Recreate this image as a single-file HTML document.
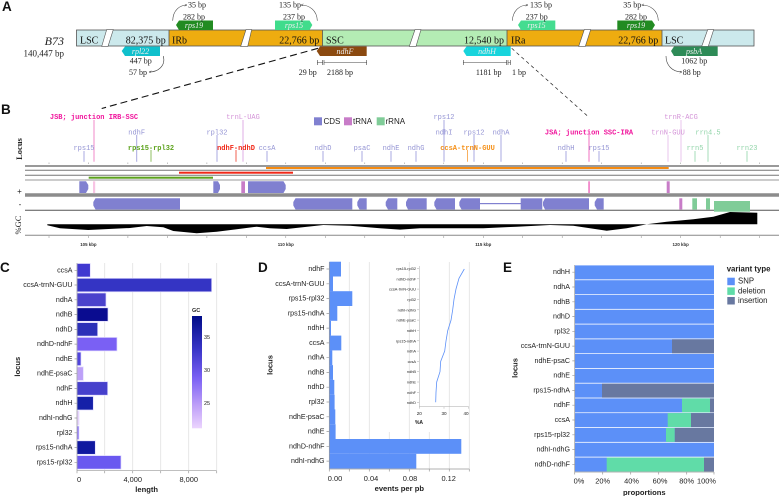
<!DOCTYPE html>
<html><head><meta charset="utf-8"><style>
html,body{margin:0;padding:0;background:#fff;width:780px;height:496px;overflow:hidden}
svg{display:block;filter:blur(.3px)}
.s{font-family:"Liberation Serif",serif;fill:#222}
.m{font-family:"Liberation Mono",monospace;font-size:7px;text-anchor:middle}
.mb{font-weight:bold}
.a{font-family:"Liberation Sans",sans-serif;fill:#222}
.c7{font-size:7.1px;text-anchor:end;dominant-baseline:central}
.t{font-size:7.4px;text-anchor:middle}
.tb{font-size:7.6px;font-weight:bold;text-anchor:middle}
.bp{font-family:"Liberation Serif",serif;font-size:8px;fill:#222;text-anchor:middle}
.g{font-family:"Liberation Serif",serif;font-size:8px;font-style:italic;fill:#eee;text-anchor:middle}
.bar{font-family:"Liberation Serif",serif;font-size:10px;fill:#111}
.L{font-family:"Liberation Sans",sans-serif;font-size:13.5px;font-weight:bold;fill:#111}
.k{font-family:"Liberation Sans",sans-serif;font-size:4.4px;font-weight:bold;text-anchor:middle;fill:#333}
</style></head><body>
<svg width="780" height="496" viewBox="0 0 780 496" xmlns="http://www.w3.org/2000/svg">
<defs>
<linearGradient id="gc" x1="0" y1="0" x2="0" y2="1"><stop offset="0" stop-color="#000c88"/><stop offset=".3" stop-color="#3a36c8"/><stop offset=".55" stop-color="#7a60f4"/><stop offset=".8" stop-color="#bfa0f8"/><stop offset="1" stop-color="#ecd4fe"/></linearGradient>
<marker id="ar" markerWidth="5" markerHeight="5" refX="4" refY="2" orient="auto"><path d="M0,0L4,2L0,4" fill="none" stroke="#333" stroke-width=".7"/></marker>
</defs>

<!-- Panel A -->
<text class="L" x="2" y="11">A</text>
<rect x="76.5" y="30" width="92.5" height="16" fill="#cce9ec"/>
<rect x="169" y="30" width="153.5" height="16" fill="#eeac10"/>
<rect x="322.5" y="30" width="184.5" height="16" fill="#b4ecb4"/>
<rect x="507" y="30" width="155" height="16" fill="#eeac10"/>
<rect x="662" y="30" width="92" height="16" fill="#cce9ec"/>
<g fill="none" stroke="#555" stroke-width=".8">
<rect x="76.5" y="30" width="677.5" height="16"/>
<path d="M169,30V46M322.5,30V46M507,30V46M662,30V46"/>
</g>
<g fill="#fff" stroke="#555" stroke-width=".6">
<path d="M101.7,46.4L106.7,29.6H113.3L108,46.4Z"/>
<path d="M240.7,46.4L246,29.6H251.7L247.7,46.4Z"/>
<path d="M409.3,46.4L415,29.6H421L416,46.4Z"/>
<path d="M578.7,46.4L584.3,29.6H590.7L585.3,46.4Z"/>
<path d="M701.7,46.4L707.7,29.6H713.7L708.3,46.4Z"/>
</g>
<g class="bar">
<text x="80" y="43.5">LSC</text><text x="165.7" y="43.5" text-anchor="end">82,375 bp</text>
<text x="172" y="43.5">IRb</text><text x="319.3" y="43.5" text-anchor="end">22,766 bp</text>
<text x="326" y="43.5">SSC</text><text x="504" y="43.5" text-anchor="end">12,540 bp</text>
<text x="511" y="43.5">IRa</text><text x="658.3" y="43.5" text-anchor="end">22,766 bp</text>
<text x="665" y="43.5">LSC</text>
</g>
<text class="s" x="64" y="45" font-size="12" font-style="italic" text-anchor="end">B73</text>
<text class="s" x="64" y="56.5" font-size="9" text-anchor="end">140,447 bp</text>

<path d="M176,25L179,20.5H213V30H179Z" fill="#228b22"/>
<path d="M275,20.5H309.5L312.3,25L309.5,30H275Z" fill="#40dc8c"/>
<path d="M121.7,51L125,46.5H160V56H125Z" fill="#10c0cc"/>
<path d="M316.7,51L320,46.5H366.7V56H320Z" fill="#8b4a10"/>
<path d="M518,25L521,20.5H555.3V30H521Z" fill="#44dc90"/>
<path d="M617.3,20.5H652L655,25L652,30H617.3Z" fill="#228b22"/>
<path d="M463.3,51L466.5,46.5H510.7V56H466.5Z" fill="#18d4dc"/>
<path d="M671,51L674,46.5H717.7V56H674Z" fill="#2e8b57"/>
<text class="g" x="194" y="28">rps19</text>
<text class="g" x="294" y="28">rps15</text>
<text class="g" x="140.5" y="54">rpl22</text>
<text class="g" x="345" y="54">ndhF</text>
<text class="g" x="536.5" y="28">rps15</text>
<text class="g" x="636" y="28">rps19</text>
<text class="g" x="487" y="54">ndhH</text>
<text class="g" x="694" y="54">psbA</text>

<g class="bp">
<text x="197" y="7.5">35 bp</text><text x="194" y="19.5">282 bp</text>
<text x="290" y="7.5">135 bp</text><text x="294" y="19.5">237 bp</text>
<text x="140.7" y="63.5">447 bp</text><text x="138" y="75">57 bp</text>
<text x="307.7" y="75">29 bp</text><text x="340" y="75">2188 bp</text>
<text x="541" y="7.5">135 bp</text><text x="536.7" y="19.5">237 bp</text>
<text x="632.3" y="7.5">35 bp</text><text x="636" y="19.5">282 bp</text>
<text x="488.7" y="75">1181 bp</text><text x="519" y="75">1 bp</text>
<text x="694.3" y="63.5">1062 bp</text><text x="691.7" y="75">88 bp</text>
</g>
<g fill="none" stroke="#444" stroke-width=".6">
<path d="M172.7,20.7C173,10 180,5 187,5" marker-end="url(#ar)"/>
<path d="M317.3,20.7C317,11 310,5 301,5" marker-end="url(#ar)"/>
<path d="M163.3,56C166,66 158,72 149,72" marker-end="url(#ar)"/>
<path d="M512.3,20.7C513,11 519,5 528,5" marker-end="url(#ar)"/>
<path d="M658.3,20.7C658,11 651,5 641.7,5" marker-end="url(#ar)"/>
<path d="M666,56C666,65 672,72 682,72" marker-end="url(#ar)"/>
<path d="M317.3,60V65M322.7,60V65M317.3,62.5H322.7M324,60V65M366.7,60V65M324,62.5H366.7"/>
<path d="M463.3,60V65M506.7,60V65M463.3,62.5H506.7M508,60V65M510.5,60V65M508,62.5H510.5"/>
</g>
<path d="M318,48.3L101.7,108.5" stroke="#111" stroke-width="1.1" stroke-dasharray="7 4" fill="none"/>
<path d="M511.7,48.3L589,117.3" stroke="#222" stroke-width=".7" stroke-dasharray="3.5 3" fill="none"/>

<!-- Panel B -->
<text class="L" x="1" y="114">B</text>
<g stroke-width="1">
<path stroke="#f8c4e4" stroke-width="2" d="M94,120V161.7"/>
<path stroke="#e8c4ec" stroke-width="1.4" d="M243,120V161.7"/>
<path stroke="#a8a8e0" d="M136.7,135V161.7M217,135V161.7M84,151V161.7M267,151V161.7M323,151V161.7M362,151V161.7M391,151V161.7M416,151V161.7M444,120V161.7M474,135V161.7M501,135V161.7M566,151V161.7M599,151V161.7"/>
<path stroke="#8fbf60" d="M151,150V161.7"/>
<path stroke="#f06050" d="M236,150V161.7"/>
<path stroke="#f8b060" d="M467.5,150V161.7"/>
<path stroke="#f070c0" d="M589,135V161.7"/>
<path stroke="#e8c4ec" d="M668,135V161.7M681,120V161.7"/>
<path stroke="#a4dcb8" d="M708,135V161.7M695,151V161.7M747,151V161.7"/>
</g>
<g class="m">
<text x="94" y="119" fill="#f0149c" class="m mb">JSB; junction IRB-SSC</text>
<text x="243" y="119" fill="#d494d8">trnL-UAG</text>
<text x="136.7" y="134.5" fill="#9494d4">ndhF</text>
<text x="217" y="134.5" fill="#9494d4">rpl32</text>
<text x="84" y="150" fill="#9494d4">rps15</text>
<text x="151" y="150" fill="#5ca21c" class="m mb">rps15-rpl32</text>
<text x="236" y="150" fill="#f02818" class="m mb">ndhF-ndhD</text>
<text x="267" y="150" fill="#9494d4">ccsA</text>
<text x="323" y="150" fill="#9494d4">ndhD</text>
<text x="362" y="150" fill="#9494d4">psaC</text>
<text x="391" y="150" fill="#9494d4">ndhE</text>
<text x="416" y="150" fill="#9494d4">ndhG</text>
<text x="444" y="119" fill="#9494d4">rps12</text>
<text x="444" y="134.5" fill="#9494d4">ndhI</text>
<text x="474" y="134.5" fill="#9494d4">rps12</text>
<text x="501" y="134.5" fill="#9494d4">ndhA</text>
<text x="467.5" y="150" fill="#f59018" class="m mb">ccsA-trnN-GUU</text>
<text x="566" y="150" fill="#9494d4">ndhH</text>
<text x="589" y="134.5" fill="#f0149c" class="m mb">JSA; junction SSC-IRA</text>
<text x="599" y="150" fill="#9494d4">rps15</text>
<text x="668" y="134.5" fill="#d494d8">trnN-GUU</text>
<text x="681" y="119" fill="#d494d8">trnR-ACG</text>
<text x="708" y="134.5" fill="#90d4a8">rrn4.5</text>
<text x="695" y="150" fill="#90d4a8">rrn5</text>
<text x="747" y="150" fill="#90d4a8">rrn23</text>
</g>
<rect x="314" y="117.3" width="8" height="8" fill="#8080d0"/><text class="a" x="323.5" y="124" font-size="8">CDS</text>
<rect x="344" y="117.3" width="8" height="8" fill="#c87cc8"/><text class="a" x="353" y="124" font-size="8">tRNA</text>
<rect x="376.7" y="117.3" width="8" height="8" fill="#80cc98"/><text class="a" x="385.5" y="124" font-size="8">rRNA</text>

<g stroke-width="1" fill="none">
<path stroke="#999" stroke-width="2" d="M25,166H779"/>
<path stroke="#777" d="M25,170.3H779M25,175.3H779"/>
<path stroke="#999" d="M25,180H779"/>
<path stroke="#8c8c8c" stroke-width="3.6" d="M25,195H779"/>
<path stroke="#555" d="M25,210.3H779"/>
<path stroke="#888" d="M25,235.3H779"/>
</g>
<g stroke="#888" stroke-width=".5">
<path d="M49,162.5v1.5M88.4,162.5v1.5M127.9,162.5v1.5M167.4,162.5v1.5M206.9,162.5v1.5M246.4,162.5v1.5M285.8,162.5v1.5M325.3,162.5v1.5M364.8,162.5v1.5M404.3,162.5v1.5M443.8,162.5v1.5M483.3,162.5v1.5M522.7,162.5v1.5M562.2,162.5v1.5M601.7,162.5v1.5M641.2,162.5v1.5M680.7,162.5v1.5M720.2,162.5v1.5M759.6,162.5v1.5"/>
<path d="M49,236v2M88.4,236v2M127.9,236v2M167.4,236v2M206.9,236v2M246.4,236v2M285.8,236v2M325.3,236v2M364.8,236v2M404.3,236v2M443.8,236v2M483.3,236v2M522.7,236v2M562.2,236v2M601.7,236v2M641.2,236v2M680.7,236v2M720.2,236v2M759.6,236v2"/>
</g>
<rect x="266" y="167" width="402.7" height="2" fill="#f58a10"/>
<rect x="179" y="171.7" width="114" height="2" fill="#f02818"/>
<rect x="88.7" y="176.7" width="124.3" height="2" fill="#5ca21c"/>

<g fill="#8080d0">
<path d="M79.3,181.3H86L88.3,185V189L86,193H79.3Z"/>
<path d="M213.3,181.3H218L220,185V189L218,193H213.3Z"/>
<path d="M248,181.3H283.5L285.7,185V189L283.5,193H248Z"/>
<path d="M95.5,198.3H180V209.5H95.5L93.3,205.5V202Z"/>
<path d="M295.5,198.3H352.3V209.5H295.5L293.3,205.5V202Z"/>
<path d="M359.5,198.3H366.7V209.5H359.5L357.3,205.5V202Z"/>
<path d="M388,198.3H397.3V209.5H388L385.7,205.5V202Z"/>
<path d="M408,198.3H426.7V209.5H408L406,205.5V202Z"/>
<path d="M436.5,198.3H455V209.5H436.5L434.3,205.5V202Z"/>
<path d="M461.5,198.3H480V209.5H461.5L459.3,205.5V202Z"/>
<rect x="480" y="203" width="41" height="1.2"/>
<rect x="520.7" y="198.3" width="21.6" height="11.2"/>
<path d="M545,198.3H589V209.5H545L543,205.5V202Z"/>
<path d="M597,198.3H603.7V209.5H597L594.7,205.5V202Z"/>
</g>
<rect x="93" y="181.3" width="2.2" height="11.7" fill="#f8c4e4"/>
<rect x="241.3" y="181.3" width="3.7" height="11.7" fill="#c87cc8"/>
<rect x="588.3" y="181.3" width="1.5" height="11.7" fill="#f070c0"/>
<rect x="666.7" y="181.3" width="3" height="11.7" fill="#c87cc8"/>
<rect x="679.3" y="198.3" width="3" height="11.2" fill="#c87cc8"/>
<rect x="692.3" y="198.3" width="4.7" height="11.2" fill="#80cc98"/>
<rect x="706" y="198.3" width="4" height="11.2" fill="#80cc98"/>
<rect x="714" y="201" width="36" height="10.7" fill="#80cc98"/>

<path fill="#000" d="M47.3,224.3V225.3L60,228.3L88.3,230L130,228L146.7,226L163.3,227.3L173.3,231L196.7,233.3L216.7,231.7L236.7,229.3L256.7,226.7L270,228.3L286.7,229L323.3,225L350,225.7L380,228.3L400,229.6L420,228.3L450,228.3L483.3,228.3L516.7,226.7L550,225L573.3,225.7L606.7,230.7L626.7,228.3L646.7,224.3L666.7,221.7L693.3,219.3L713.3,216.7L730,212L757.3,212.7V224.3Z"/>
<g class="k"><text x="88.4" y="246">105 kbp</text><text x="285.8" y="246">110 kbp</text><text x="483.3" y="246">115 kbp</text><text x="680.7" y="246">120 kbp</text></g>
<text class="s" font-size="8.5" font-weight="bold" transform="translate(22,149) rotate(-90)" text-anchor="middle">Locus</text>
<text class="a" font-size="8" x="19.5" y="194" text-anchor="middle">+</text>
<text class="a" font-size="8" x="20" y="207" text-anchor="middle">-</text>
<text class="s" font-size="8.5" transform="translate(21,225) rotate(-90)" text-anchor="middle">%GC</text>

<!-- Panel C -->
<text class="L" x="0" y="272">C</text>
<g stroke="#e2e2e2" stroke-width=".8"><path d="M104.7,263V470M132.7,263V470M160.7,263V470M188.7,263V470M216.7,263V470"/></g>
<g stroke="#e2dcff" stroke-width=".7">
<rect x="77" y="263.5" width="13.3" height="13.5" fill="#4038d0"/>
<rect x="77" y="278.3" width="134.7" height="13.5" fill="#3434c4"/>
<rect x="77" y="293" width="29" height="13.5" fill="#4a42cc"/>
<rect x="77" y="307.8" width="31" height="13.5" fill="#0a0c90"/>
<rect x="77" y="322.6" width="20.7" height="13.5" fill="#2c30b8"/>
<rect x="77" y="337.4" width="40" height="13.5" fill="#7a60f4"/>
<rect x="77" y="352.1" width="4" height="13.5" fill="#5044dc"/>
<rect x="77" y="366.9" width="6.3" height="13.5" fill="#bda0f8"/>
<rect x="77" y="381.7" width="30.7" height="13.5" fill="#4640cc"/>
<rect x="77" y="396.5" width="16.3" height="13.5" fill="#1520a8"/>
<rect x="77" y="411.2" width="2" height="13.5" fill="#e8d0fc"/>
<rect x="77" y="426" width="2" height="13.5" fill="#8a70f8"/>
<rect x="77" y="440.8" width="18.3" height="13.5" fill="#1018a0"/>
<rect x="77" y="455.6" width="44" height="13.5" fill="#6a58f0"/>
</g>
<path d="M77,263V470.7H216.7M74.5,270.3H77M74.5,285H77M74.5,299.8H77M74.5,314.6H77M74.5,329.4H77M74.5,344.1H77M74.5,358.9H77M74.5,373.7H77M74.5,388.5H77M74.5,403.2H77M74.5,418H77M74.5,432.8H77M74.5,447.6H77M74.5,462.3H77M77,470.7v2.5M104.7,470.7v2.5M132.7,470.7v2.5M160.7,470.7v2.5M188.7,470.7v2.5M216.7,470.7v2.5" fill="none" stroke="#999" stroke-width=".7"/>
<g class="a c7">
<text x="72.5" y="270.3">ccsA</text><text x="72.5" y="285">ccsA-trnN-GUU</text><text x="72.5" y="299.8">ndhA</text><text x="72.5" y="314.6">ndhB</text><text x="72.5" y="329.4">ndhD</text><text x="72.5" y="344.1">ndhD-ndhF</text><text x="72.5" y="358.9">ndhE</text><text x="72.5" y="373.7">ndhE-psaC</text><text x="72.5" y="388.5">ndhF</text><text x="72.5" y="403.2">ndhH</text><text x="72.5" y="418">ndhI-ndhG</text><text x="72.5" y="432.8">rpl32</text><text x="72.5" y="447.6">rps15-ndhA</text><text x="72.5" y="462.3">rps15-rpl32</text>
</g>
<g class="a t"><text x="79" y="482">0</text><text x="132.7" y="482">4,000</text><text x="188.7" y="482">8,000</text></g>
<text class="a tb" x="146.7" y="492">length</text>
<text class="a tb" transform="translate(20,366.7) rotate(-90)">locus</text>
<text class="a" x="192" y="312" font-size="5.5" font-weight="bold">GC</text>
<rect x="192" y="316" width="10" height="112.3" fill="url(#gc)"/>
<g class="a" font-size="5.5"><text x="204" y="339">35</text><text x="204" y="372">30</text><text x="204" y="405">25</text></g>

<!-- Panel D -->
<text class="L" x="258" y="272">D</text>
<g stroke="#e2e2e2" stroke-width=".8"><path d="M349.3,262V469M369.3,262V469M389.3,432V469M409.3,262V469M429.3,432V469M449.3,262V469M469.3,262V469"/></g>
<g fill="#5c90f8">
<rect x="329.3" y="261.7" width="11.7" height="14.8"/>
<rect x="329.3" y="276.5" width="3.7" height="14.8"/>
<rect x="329.3" y="291.2" width="23" height="14.8"/>
<rect x="329.3" y="306" width="8" height="14.8"/>
<rect x="329.3" y="320.8" width="1.7" height="14.8"/>
<rect x="329.3" y="335.6" width="12" height="14.8"/>
<rect x="329.3" y="350.3" width="3" height="14.8"/>
<rect x="329.3" y="365.1" width="3.7" height="14.8"/>
<rect x="329.3" y="379.9" width="5" height="14.8"/>
<rect x="329.3" y="394.7" width="5.3" height="14.8"/>
<rect x="329.3" y="409.4" width="6" height="14.8"/>
<rect x="329.3" y="424.2" width="6.3" height="14.8"/>
<rect x="329.3" y="439" width="132" height="14.8"/>
<rect x="329.3" y="453.8" width="87" height="14.8"/>
</g>
<path d="M329.3,262V469H469.3M326.5,269H329.3M326.5,283.8H329.3M326.5,298.6H329.3M326.5,313.4H329.3M326.5,328.1H329.3M326.5,342.9H329.3M326.5,357.7H329.3M326.5,372.5H329.3M326.5,387.2H329.3M326.5,402H329.3M326.5,416.8H329.3M326.5,431.6H329.3M326.5,446.3H329.3M326.5,461.1H329.3M329.3,469v2.5M349.3,469v2.5M369.3,469v2.5M389.3,469v2.5M409.3,469v2.5M429.3,469v2.5M449.3,469v2.5M469.3,469v2.5" fill="none" stroke="#999" stroke-width=".7"/>
<g class="a c7">
<text x="324.5" y="269">ndhF</text><text x="324.5" y="283.8">ccsA-trnN-GUU</text><text x="324.5" y="298.6">rps15-rpl32</text><text x="324.5" y="313.4">rps15-ndhA</text><text x="324.5" y="328.1">ndhH</text><text x="324.5" y="342.9">ccsA</text><text x="324.5" y="357.7">ndhA</text><text x="324.5" y="372.5">ndhB</text><text x="324.5" y="387.2">ndhD</text><text x="324.5" y="402">rpl32</text><text x="324.5" y="416.8">ndhE-psaC</text><text x="324.5" y="431.6">ndhE</text><text x="324.5" y="446.3">ndhD-ndhF</text><text x="324.5" y="461.1">ndhI-ndhG</text>
</g>
<g class="a t"><text x="335" y="481">0.00</text><text x="371" y="481">0.04</text><text x="410" y="481">0.08</text><text x="448.7" y="481">0.12</text></g>
<text class="a tb" x="399.3" y="491">events per pb</text>
<text class="a tb" transform="translate(272.5,365) rotate(-90)">locus</text>
<g class="a" font-size="3.9" text-anchor="end" dominant-baseline="central" fill="#333">
<text x="416" y="268.5">rps15-rpl32</text><text x="416" y="278.8">ndhD-ndhF</text><text x="416" y="289.1">ccsA-trnN-GUU</text><text x="416" y="299.5">rpl32</text><text x="416" y="309.8">ndhI-ndhG</text><text x="416" y="320.1">ndhE-psaC</text><text x="416" y="330.4">ndhH</text><text x="416" y="340.8">rps15-ndhA</text><text x="416" y="351.1">ndhA</text><text x="416" y="361.4">ccsA</text><text x="416" y="371.7">ndhB</text><text x="416" y="382">ndhE</text><text x="416" y="392.3">ndhF</text><text x="416" y="402.7">ndhD</text>
</g>
<path d="M419.3,266V406.7H468.7M417,268.5H419.3M417,278.8H419.3M417,289.1H419.3M417,299.5H419.3M417,309.8H419.3M417,320.1H419.3M417,330.4H419.3M417,340.8H419.3M417,351.1H419.3M417,361.4H419.3M417,371.7H419.3M417,382H419.3M417,392.3H419.3M417,402.7H419.3M419.3,406.7v2M444,406.7v2M468.7,406.7v2" fill="none" stroke="#aaa" stroke-width=".5"/>
<path d="M464.3,269L459,278.3L456,289L454,299.3L452.7,309.7L451,320.3L447.7,330.7L446,341L444.7,351L440.7,361.3L440,371.7L436.7,382L436,392.3L435.7,402.3" fill="none" stroke="#5c90f8" stroke-width=".8"/>
<g class="a" font-size="4.6" text-anchor="middle"><text x="419.3" y="415">20</text><text x="444" y="415">30</text><text x="466" y="415">40</text></g>
<text class="a" x="419" y="424" font-size="5" font-weight="bold" text-anchor="middle">%A</text>

<!-- Panel E -->
<text class="L" x="503" y="272">E</text>
<g fill="#5c90f8">
<rect x="574.7" y="265.4" width="139.3" height="14"/><rect x="574.7" y="280.2" width="139.3" height="14"/><rect x="574.7" y="294.9" width="139.3" height="14"/><rect x="574.7" y="309.7" width="139.3" height="14"/><rect x="574.7" y="324.5" width="139.3" height="14"/><rect x="574.7" y="339.3" width="139.3" height="14"/><rect x="574.7" y="354" width="139.3" height="14"/><rect x="574.7" y="368.8" width="139.3" height="14"/><rect x="574.7" y="383.6" width="139.3" height="14"/><rect x="574.7" y="398.4" width="139.3" height="14"/><rect x="574.7" y="413.1" width="139.3" height="14"/><rect x="574.7" y="427.9" width="139.3" height="14"/><rect x="574.7" y="442.7" width="139.3" height="14"/><rect x="574.7" y="457.5" width="139.3" height="14"/>
</g>
<g fill="#6878a0">
<rect x="672" y="339.3" width="42" height="14"/>
<rect x="602" y="383.6" width="112" height="14"/>
<rect x="710" y="398.4" width="4" height="14"/>
<rect x="691" y="413.1" width="23" height="14"/>
<rect x="674.7" y="427.9" width="39.3" height="14"/>
<rect x="704" y="457.5" width="10" height="14"/>
</g>
<g fill="#60dca8">
<rect x="682" y="398.4" width="28" height="14"/>
<rect x="667.7" y="413.1" width="23.3" height="14"/>
<rect x="666" y="427.9" width="8.7" height="14"/>
<rect x="606.7" y="457.5" width="97.3" height="14"/>
</g>
<path d="M574.7,265V472H714M572.3,272.2H574.7M572.3,287H574.7M572.3,301.8H574.7M572.3,316.6H574.7M572.3,331.3H574.7M572.3,346.1H574.7M572.3,360.9H574.7M572.3,375.7H574.7M572.3,390.4H574.7M572.3,405.2H574.7M572.3,420H574.7M572.3,434.8H574.7M572.3,449.5H574.7M572.3,464.3H574.7M574.7,472v2.5M602.7,472v2.5M630.7,472v2.5M658.7,472v2.5M686.7,472v2.5M714,472v2.5" fill="none" stroke="#999" stroke-width=".7"/>
<g class="a c7">
<text x="570" y="272.2">ndhH</text><text x="570" y="287">ndhA</text><text x="570" y="301.8">ndhB</text><text x="570" y="316.6">ndhD</text><text x="570" y="331.3">rpl32</text><text x="570" y="346.1">ccsA-trnN-GUU</text><text x="570" y="360.9">ndhE-psaC</text><text x="570" y="375.7">ndhE</text><text x="570" y="390.4">rps15-ndhA</text><text x="570" y="405.2">ndhF</text><text x="570" y="420">ccsA</text><text x="570" y="434.8">rps15-rpl32</text><text x="570" y="449.5">ndhI-ndhG</text><text x="570" y="464.3">ndhD-ndhF</text>
</g>
<g class="a t"><text x="579" y="483.5">0%</text><text x="602.7" y="483.5">20%</text><text x="631.5" y="483.5">40%</text><text x="660" y="483.5">60%</text><text x="686.7" y="483.5">80%</text><text x="706.5" y="483.5">100%</text></g>
<text class="a tb" x="644.3" y="495">proportions</text>
<text class="a tb" transform="translate(517.5,368) rotate(-90)">locus</text>
<text class="a" x="726.7" y="271.5" font-size="7.8" font-weight="bold">variant type</text>
<rect x="727.3" y="277.7" width="7.5" height="7.5" fill="#5c90f8"/><text class="a" x="738" y="283.5" font-size="7.8">SNP</text>
<rect x="727.3" y="287.4" width="7.5" height="7.5" fill="#60dca8"/><text class="a" x="738" y="293.3" font-size="7.8">deletion</text>
<rect x="727.3" y="297" width="7.5" height="7.5" fill="#6878a0"/><text class="a" x="738" y="303" font-size="7.8">insertion</text>
</svg>
</body></html>
